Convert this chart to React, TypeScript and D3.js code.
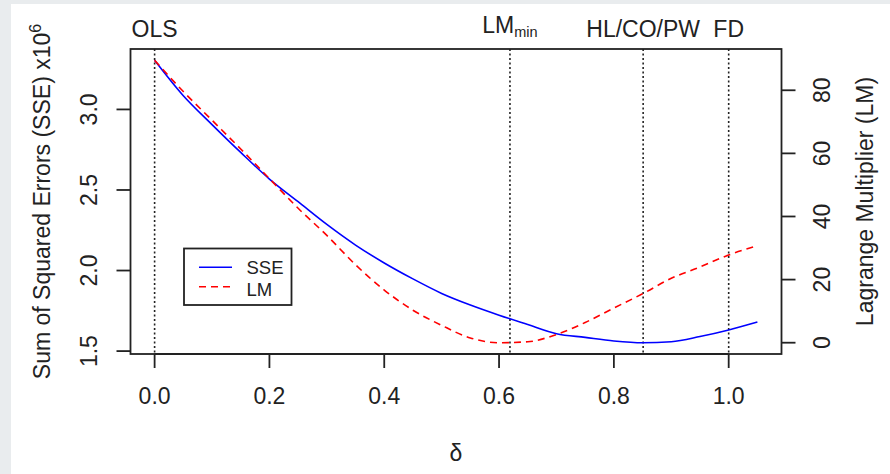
import React from 'react';
import * as d3 from 'd3';

// ---- data ----
const delta = [0, 0.05, 0.1, 0.15, 0.2, 0.25, 0.3, 0.35, 0.4, 0.45, 0.5, 0.55, 0.6, 0.65, 0.7, 0.75, 0.8, 0.85, 0.9, 0.95, 1.0, 1.05];
const sse = [3.305, 3.085, 2.906, 2.733, 2.568, 2.427, 2.286, 2.158, 2.047, 1.948, 1.858, 1.786, 1.723, 1.665, 1.608, 1.585, 1.563, 1.552, 1.558, 1.59, 1.631, 1.68];
const lm = [89.5, 79.6, 70.5, 61.4, 52.0, 42.6, 34.0, 24.7, 16.7, 10.3, 5.5, 1.5, 0.0, 0.3, 2.6, 6.4, 11.0, 15.5, 20.4, 24.0, 27.8, 30.7];

const xTicks = [0, 0.2, 0.4, 0.6, 0.8, 1.0];
const sseTicks = [1.5, 2.0, 2.5, 3.0];
const lmTicks = [0, 20, 40, 60, 80];

const markerNames = ['OLS', 'LM', 'HL/CO/PW', 'FD'];
const markerSubs = ['', 'min', '', ''];
const markerDeltas = [0, 0.619, 0.851, 1.0];

const legendLabels = ['SSE', 'LM'];

// ---- layout ----
const W = 890, H = 474;
const L = 130.5, R = 781.5, T = 49, B = 354;
const FONT = '"Liberation Sans", Arial, Helvetica, sans-serif';
const FS = 23;

function pad(ext: [number, number]): [number, number] {
  const r = ext[1] - ext[0];
  return [ext[0] - 0.04 * r, ext[1] + 0.04 * r];
}

export default function App() {
  const x = d3.scaleLinear().domain(pad(d3.extent(delta) as [number, number])).range([L, R]);
  const yS = d3.scaleLinear().domain(pad(d3.extent(sse) as [number, number])).range([B, T]);
  const yL = d3.scaleLinear().domain(pad(d3.extent(lm) as [number, number])).range([B, T]);

  const sseLine = d3.line<number>().x((_, i) => x(delta[i])).y((v) => yS(v)).curve(d3.curveMonotoneX);
  const lmLine = d3.line<number>().x((_, i) => x(delta[i])).y((v) => yL(v)).curve(d3.curveMonotoneX);

  const f1 = d3.format('.1f');
  const tick = 14;

  return (
    <svg width={W} height={H} style={{ position: 'absolute', left: 0, top: 0, fontFamily: FONT }}>
      <rect x={0} y={0} width={W} height={H} fill="#e9ecee" />
      <rect x={11} y={4} width={W - 11} height={H - 4} fill="#ffffff" />

      {/* vertical marker lines */}
      {markerDeltas.map((d, i) => (
        <line key={'m' + i} x1={x(d)} x2={x(d)} y1={T} y2={B} stroke="#222" strokeWidth={1.6} strokeDasharray="2,2.5" />
      ))}

      {/* curves */}
      <path d={sseLine(sse) || ''} fill="none" stroke="#0000ff" strokeWidth={1.6} />
      <path d={lmLine(lm) || ''} fill="none" stroke="#ff0000" strokeWidth={1.6} strokeDasharray="7,5" />

      {/* box */}
      <rect x={L} y={T} width={R - L} height={B - T} fill="none" stroke="#222" strokeWidth={1.8} />

      {/* x axis */}
      <line x1={x(xTicks[0])} x2={x(xTicks[xTicks.length - 1])} y1={B} y2={B} stroke="#222" strokeWidth={1.8} />
      {xTicks.map((t) => (
        <g key={'xt' + t}>
          <line x1={x(t)} x2={x(t)} y1={B} y2={B + tick} stroke="#222" strokeWidth={1.8} />
          <text x={x(t)} y={404} textAnchor="middle" fontSize={FS} fill="#222">{f1(t)}</text>
        </g>
      ))}
      <text x={(L + R) / 2} y={461} textAnchor="middle" fontSize={FS} fill="#222">δ</text>

      {/* left axis */}
      {sseTicks.map((t) => (
        <g key={'ys' + t}>
          <line x1={L - tick} x2={L} y1={yS(t)} y2={yS(t)} stroke="#222" strokeWidth={1.8} />
          <text transform={`translate(96.5,${yS(t)}) rotate(-90)`} textAnchor="middle" fontSize={FS} fill="#222">{f1(t)}</text>
        </g>
      ))}
      <text transform={`translate(50,${(T + B) / 2}) rotate(-90)`} textAnchor="middle" fontSize={FS} fill="#222">
        Sum of Squared Errors (SSE) x10<tspan fontSize={16} dy={-9}>6</tspan>
      </text>

      {/* right axis */}
      {lmTicks.map((t) => (
        <g key={'yl' + t}>
          <line x1={R} x2={R + tick} y1={yL(t)} y2={yL(t)} stroke="#222" strokeWidth={1.8} />
          <text transform={`translate(829.5,${yL(t)}) rotate(-90)`} textAnchor="middle" fontSize={FS} fill="#222">{String(t)}</text>
        </g>
      ))}
      <text transform={`translate(873,${(T + B) / 2}) rotate(-90)`} textAnchor="middle" fontSize={FS} fill="#222">
        Lagrange Multiplier (LM)
      </text>

      {/* marker labels */}
      {markerNames.map((n, i) => (
        <text key={'ml' + i} x={x(markerDeltas[i])} y={markerSubs[i] ? 33 : 36.5} textAnchor="middle" fontSize={FS} fill="#222">
          {n}
          {markerSubs[i] ? <tspan fontSize={14.5} dy={4}>{markerSubs[i]}</tspan> : null}
        </text>
      ))}

      {/* legend */}
      <rect x={184} y={248.5} width={107.5} height={56.5} fill="#fff" stroke="#222" strokeWidth={1.8} />
      <line x1={199} x2={232} y1={267.3} y2={267.3} stroke="#0000ff" strokeWidth={1.6} />
      <line x1={199} x2={232} y1={286.7} y2={286.7} stroke="#ff0000" strokeWidth={1.6} strokeDasharray="7,5" />
      <text x={246.5} y={274} fontSize={18.5} fill="#222">{legendLabels[0]}</text>
      <text x={246.5} y={296} fontSize={18.5} fill="#222">{legendLabels[1]}</text>
    </svg>
  );
}
